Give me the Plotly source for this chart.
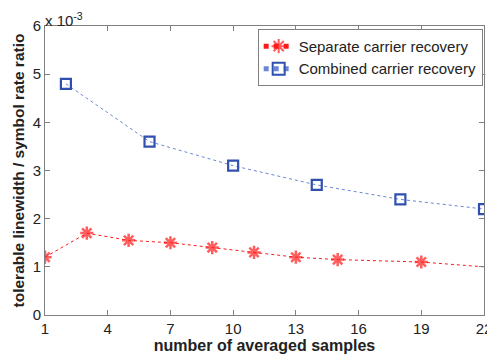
import plotly.graph_objects as go

# Data (values in units of 1e-3)
sep_x = [1, 3, 5, 7, 9, 11, 13, 15, 19, 22]
sep_y = [1.2, 1.7, 1.55, 1.5, 1.4, 1.3, 1.2, 1.15, 1.1, 1.0]
sep_marker_size = [11, 11, 11, 11, 11, 11, 11, 11, 11, 0]
comb_x = [2, 6, 10, 14, 18, 22]
comb_y = [4.8, 3.6, 3.1, 2.7, 2.4, 2.2]
x_ticks = [1, 4, 7, 10, 13, 16, 19, 22]
y_ticks = [0, 1, 2, 3, 4, 5, 6]

RED = "#ff1a1a"
BLUE = "#3050b0"
FONT = "Liberation Sans, Arial"

fig = go.Figure()
fig.add_trace(go.Scatter(
    x=sep_x, y=sep_y, mode="lines+markers", name="Separate carrier recovery",
    line=dict(color=RED, width=1, dash="dot"),
    marker=dict(symbol="asterisk-open", size=sep_marker_size, color=RED,
                line=dict(color=RED, width=2.5)),
))
fig.add_trace(go.Scatter(
    x=comb_x, y=comb_y, mode="lines+markers", name="Combined carrier recovery",
    line=dict(color="#6b86d6", width=1, dash="dot"),
    marker=dict(symbol="square-open", size=10, color=BLUE,
                line=dict(color=BLUE, width=2.2)),
))

axis_common = dict(
    showline=True, linecolor="#808080", linewidth=1, mirror="ticks",
    ticks="inside", ticklen=5, tickcolor="#808080", showgrid=False, zeroline=False,
    automargin=False,
    tickfont=dict(family=FONT, size=15, color="#222"),
)
fig.update_xaxes(range=[1, 22], tickvals=x_ticks, **axis_common,
                 title=dict(text="<b>number of averaged samples</b>", standoff=0,
                            font=dict(family=FONT, size=16, color="#222")))
fig.update_yaxes(range=[0, 6], tickvals=y_ticks, **axis_common,
                 title=dict(text="<b>tolerable linewidth / symbol rate ratio</b>", standoff=4,
                            font=dict(family=FONT, size=15.5, color="#222")))

fig.add_annotation(xref="paper", yref="paper", x=0.0, y=1.0, xanchor="left", yanchor="bottom",
                   text="x 10<sup>-3</sup>", showarrow=False, xshift=-2, yshift=-5,
                   font=dict(family=FONT, size=15, color="#222"))

fig.update_layout(
    width=487, height=346, paper_bgcolor="white", plot_bgcolor="white",
    margin=dict(l=37, r=11, t=18, b=39),
    legend=dict(x=0.997, y=0.99, xanchor="right", yanchor="top",
                bordercolor="#808080", borderwidth=1, bgcolor="white",
                font=dict(family=FONT, size=15, color="#222"),
                tracegroupgap=0, itemsizing="constant", itemwidth=30),
    showlegend=True,
)

fig.write_html("out.html")
